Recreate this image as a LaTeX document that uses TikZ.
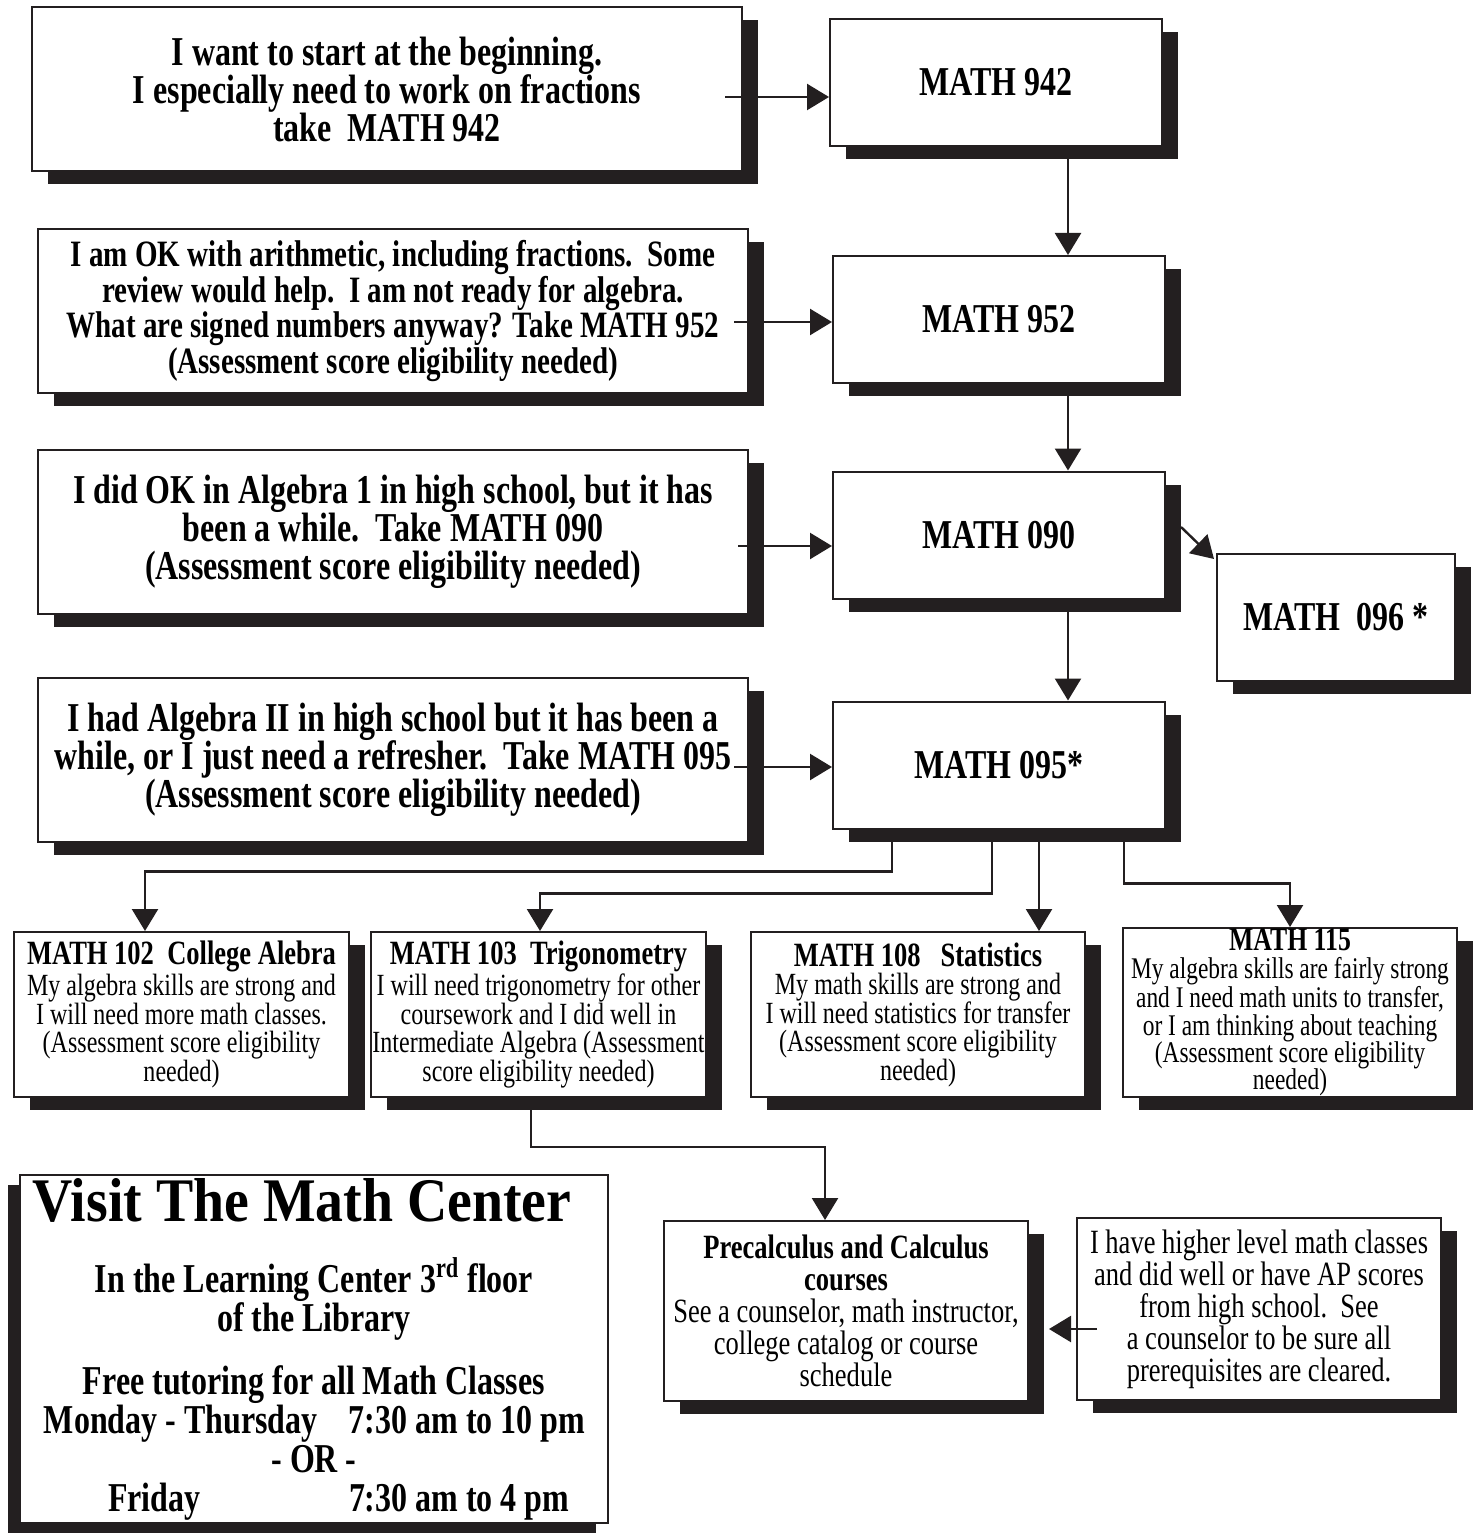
\documentclass[tikz,border=0pt]{standalone}
\usepackage{fontspec}
\setmainfont{Liberation Serif}[FakeStretch=0.78]
\usetikzlibrary{arrows.meta, shadows, calc}
\definecolor{ink}{HTML}{231F20}
\newcommand{\coursetitle}[1]{{\fontsize{17}{17}\selectfont\bfseries #1}}

\begin{document}
\begin{tikzpicture}[
x=0.5pt, y=-0.5pt,
plain/.style={
    rectangle,
    draw=ink,
    line width=1pt,
    fill=white,
    align=center,
    inner sep=0pt
},
panel/.style={
    plain,
    drop shadow={shadow xshift=8pt, shadow yshift=-6.5pt, fill=ink, opacity=1}
},
choice/.style={
    panel,
    minimum width=355pt,
    minimum height=82pt,
    font=\fontsize{20.5}{19}\selectfont\bfseries
},
course/.style={
    panel,
    minimum width=166pt,
    minimum height=63.5pt,
    font=\fontsize{20.5}{19}\selectfont\bfseries
},
college/.style={
    panel,
    minimum width=167.5pt,
    minimum height=82.5pt,
    font=\fontsize{15.4}{14.25}\selectfont
},
advice/.style={
    panel,
    minimum width=182pt,
    minimum height=90pt,
    font=\fontsize{17}{16}\selectfont
},
arrow/.style={
    -{Triangle[length=11pt,width=13pt]},
    line width=1.2pt,
    draw=ink
}
]
\useasboundingbox (0,0) rectangle (1473,1535);

% placement choices on the left
\node (start) [choice] at (387,89) {
I want to start at the beginning.\\
I especially need to work on fractions\\
take\ \ MATH 942
};

\node (arith) [choice, font=\fontsize{18.6}{17.75}\selectfont\bfseries] at (393,311) {
I am OK with arithmetic, including fractions.\ \ Some\\
review would help.\ \ I am not ready for algebra.\\
What are signed numbers anyway? Take MATH 952\\
(Assessment score eligibility needed)
};

\node (algone) [choice] at (393,532) {
I did OK in Algebra 1 in high school, but it has\\
been a while.\ \ Take MATH 090\\
(Assessment score eligibility needed)
};

\node (algtwo) [choice] at (393,760) {
I had Algebra II in high school but it has been a\\
while, or I just need a refresher.\ \ Take MATH 095\\
(Assessment score eligibility needed)
};

% course sequence
\node (m942) [course] at (996,82.5) {MATH 942};
\node (m952) [course] at (999,319.5) {MATH 952};
\node (m090) [course] at (999,535) {MATH 090};
\node (m096) [course, minimum width=119pt] at (1336,617.5) {MATH\ \ 096 *};
\node (m095) [course] at (999,765) {MATH 095*};

% transfer level courses
\node (m102) [college] at (181.5,1014.5) {
\coursetitle{MATH 102\ \ College Alebra}\\
My algebra skills are strong and\\
I will need more math classes.\\
(Assessment score eligibility\\
needed)
};

\node (m103) [college] at (538.5,1014.5) {
\coursetitle{MATH 103\ \ Trigonometry}\\
I will need trigonometry for other\\
coursework and I did well in\\
Intermediate Algebra (Assessment\\
score eligibility needed)
};

\node (m108) [college, minimum width=167pt] at (918,1014.5) {
\coursetitle{MATH 108\ \ \ Statistics}\\
My math skills are strong and\\
I will need statistics for transfer\\
(Assessment score eligibility\\
needed)
};

\node (m115) [college, minimum width=167pt, minimum height=84.5pt,
    font=\fontsize{15}{13.7}\selectfont] at (1290,1012.5) {
{\fontsize{16.5}{16.5}\selectfont\bfseries MATH 115}\\
My algebra skills are fairly strong\\
and I need math units to transfer,\\
or I am thinking about teaching\\
(Assessment score eligibility\\
needed)
};

\node (precalc) [advice] at (846,1311) {
\textbf{Precalculus and Calculus}\\
\textbf{courses}\\
See a counselor, math instructor,\\
college catalog or course\\
schedule
};

\node (higher) [advice, minimum height=91pt] at (1259,1309) {
I have higher level math classes\\
and did well or have AP scores\\
from high school.\ \ See\\
a counselor to be sure all\\
prerequisites are cleared.
};

\node (visit) [plain, minimum width=294pt, minimum height=174pt,
    font=\fontsize{20.5}{19.5}\selectfont\bfseries,
    drop shadow={shadow xshift=-6pt, shadow yshift=-5pt, fill=ink, opacity=1}] at (314,1349) {
{\fontsize{31}{31}\selectfont\addfontfeatures{FakeStretch=0.9}Visit The Math Center}\hspace*{12pt}\\[16pt]
In the Learning Center 3\textsuperscript{rd} floor\hspace*{12pt}\\
of the Library\hspace*{12pt}\\[12pt]
Free tutoring for all Math Classes\hspace*{12pt}\\
\makebox[152.5pt][l]{Monday - Thursday}\makebox[117.5pt][l]{7:30 am to 10 pm}\\
- OR -\hspace*{12pt}\\
\makebox[152.5pt][l]{\hspace{32pt}Friday}\makebox[117.5pt][l]{7:30 am to 4 pm}
};

% connectors
\draw [arrow] ($(start.east)+(-18,8)$) -- ($(m942.west)+(0,14.5)$);
\draw [arrow] ($(arith.east)+(-15,11)$) -- ($(m952.west)+(0,2.5)$);
\draw [arrow] ($(algone.east)+(-11,14)$) -- ($(m090.west)+(0,11)$);
\draw [arrow] ($(algtwo.east)+(-15,7)$) -- ($(m095.west)+(0,2)$);

\draw [arrow] ($(m942.south)+(72,0)$) -- ($(m952.north)+(69,0)$);
\draw [arrow] ($(m952.south)+(69,0)$) -- ($(m090.north)+(69,0)$);
\draw [arrow] ($(m090.south)+(69,0)$) -- ($(m095.north)+(69,0)$);
\draw [arrow] ($(m090.east)+(15,-8)$) -- ($(m096.north west)+(-2,6)$);

\draw [arrow] ($(m095.south west)+(60,0)$) -- ++(0,42) -| ($(m102.north west)+(132,0)$);
\draw [arrow] ($(m095.south west)+(160,0)$) -- ++(0,64) -| ($(m103.north)+(1.5,0)$);
\draw [arrow] ($(m095.south west)+(207,0)$) coordinate (s108) -- (s108 |- m108.north);
\draw [arrow] ($(m095.south west)+(292,0)$) -- ++(0,54) -| (m115.north);

\draw [arrow] ($(m103.south west)+(161,0)$) -- ++(0,49) -| ($(precalc.north west)+(162,0)$);
\draw [arrow] ($(higher.west)+(21,20)$) -- ($(precalc.east)+(20,18)$);

\end{tikzpicture}
\end{document}
